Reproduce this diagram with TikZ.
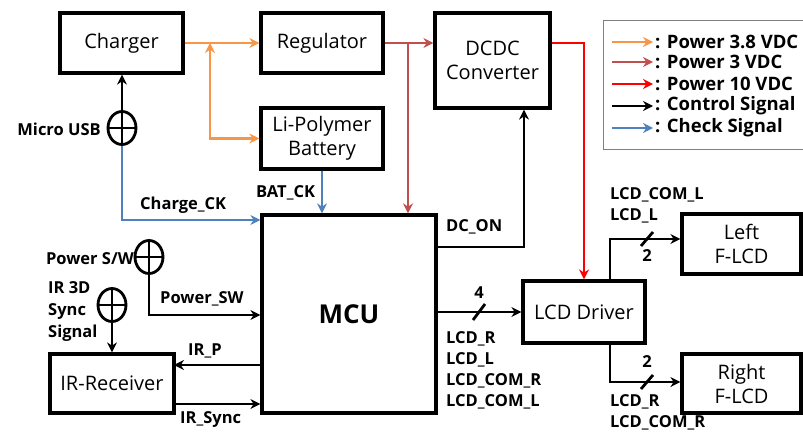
\documentclass[tikz,border=0pt]{standalone}
\usepackage{fontspec}
\setmainfont{Open Sans}
\usetikzlibrary{arrows.meta,shapes.geometric}
\definecolor{porange}{HTML}{F79646}
\definecolor{pbrown}{HTML}{C0504D}
\definecolor{pred}{HTML}{FF0000}
\definecolor{pblue}{HTML}{4F81BD}
\definecolor{lgray}{HTML}{808080}
\tikzset{
  blk/.style={draw=black, line width=3.2pt, fill=white, align=center, inner sep=2pt,
    font=\fontsize{20}{24}\selectfont},
  conn/.style={line width=2.8pt, -{Stealth[length=10pt,width=10pt]}},
  ctrl/.style={conn, draw=black},
  p38/.style={conn, draw=porange},
  p3/.style={conn, draw=pbrown},
  p10/.style={conn, draw=pred},
  chk/.style={conn, draw=pblue},
  lbl/.style={font=\bfseries\fontsize{16.5}{21}\selectfont, inner sep=0pt, align=left},
  jack/.style={ellipse, draw=black, line width=2.8pt, minimum width=28pt, minimum height=33pt, inner sep=0pt},
  slashmark/.style={line width=2.8pt},
  legtext/.style={font=\bfseries\fontsize{18.5}{20}\selectfont, anchor=west, inner sep=0pt}
}
\begin{document}
\begin{tikzpicture}[x=1pt,y=-1pt]
\useasboundingbox (0,0) rectangle (803,436);
\fill[white] (0,0) rectangle (803,436);

% blocks
\node[blk, minimum width=123pt, minimum height=60pt] (charger) at (121.5,43) {Charger};
\node[blk, minimum width=122pt, minimum height=60pt] (regulator) at (322,43) {Regulator};
\node[blk, minimum width=122pt, minimum height=61pt] (battery) at (322,138.5) {Li-Polymer\\Battery};
\node[blk, minimum width=115pt, minimum height=95pt] (dcdc) at (492.5,60.5) {DCDC\\Converter};
\node[blk, minimum width=174pt, minimum height=198pt, font=\bfseries\fontsize{26}{30}\selectfont] (mcu) at (349,314) {MCU};
\node[blk, minimum width=124pt, minimum height=59pt] (irrx) at (112,383.5) {IR-Receiver};
\node[blk, minimum width=122pt, minimum height=62pt] (lcddrv) at (584,312) {LCD Driver};
\node[blk, minimum width=119pt, minimum height=60pt] (leftlcd) at (741.5,244) {Left\\F-LCD};
\node[blk, minimum width=119pt, minimum height=59pt] (rightlcd) at (741.5,383.5) {Right\\F-LCD};

% jacks
\node[jack] (usb) at (122,128) {};
\draw[line width=2.8pt] (usb.north) -- (usb.south) (usb.west) -- (usb.east);
\node[jack] (psw) at (149,257) {};
\draw[line width=2.8pt] (psw.north) -- (psw.south) (psw.west) -- (psw.east);
\node[jack] (ir3d) at (112,305) {};
\draw[line width=2.8pt] (ir3d.north) -- (ir3d.south) (ir3d.west) -- (ir3d.east);

\node[lbl, anchor=east] (usblbl) at (101,129) {Micro USB};
\node[lbl, anchor=east] (pswlbl) at (134,259) {Power S/W};
\node[lbl, anchor=west, font=\bfseries\fontsize{16.5}{22}\selectfont] (irlbl) at (48,312) {IR 3D\\Sync\\Signal};

% coordinates
\coordinate (jor) at (210,43);
\coordinate (jbr) at (408,43);
\coordinate (rcorner) at (584,43);
\coordinate (dcon) at (524,247);
\coordinate (chk1) at (122,220);
\coordinate (psw1) at (149,315);
\coordinate (irp) at (174,365);
\coordinate (irs) at (174,404);
\coordinate (lup) at (610,239);
\coordinate (ldn) at (610,382);

% power 3.8
\draw[p38] (charger.east) -- (regulator.west);
\draw[p38, {Stealth[length=10pt,width=10pt]}-{Stealth[length=10pt,width=10pt]}] (jor) |- (battery.west);
% power 3
\draw[p3] (regulator.east) -- (dcdc.west |- regulator.east);
\draw[p3] (jbr) -- (jbr |- mcu.north);
% power 10
\draw[p10] (dcdc.east |- rcorner) -- (rcorner) -- (rcorner |- lcddrv.north);
% control
\draw[ctrl] (usb.north) -- (usb.north |- charger.south);
\draw[ctrl] (mcu.east |- dcon) -- (dcon) -- (dcon |- dcdc.south);
\draw[ctrl] (psw.south) -- (psw1) -- (mcu.west |- psw1);
\draw[ctrl] (ir3d.south) -- (ir3d.south |- irrx.north);
\draw[ctrl] (mcu.west |- irp) -- (irp);
\draw[ctrl] (irs) -- (mcu.west |- irs);
\draw[ctrl] (mcu.east |- lcddrv.west) -- (lcddrv.west);
\draw[ctrl] (lcddrv.north -| lup) -- (lup) -- (leftlcd.west |- lup);
\draw[ctrl] (lcddrv.south -| ldn) -- (ldn) -- (rightlcd.west |- ldn);
% check
\draw[chk] (usb.south) -- (chk1) -- (mcu.west |- chk1);
\draw[chk] (battery.south) -- (battery.south |- mcu.north);

% bus slashes
\draw[slashmark] (473,320) -- (485,304);
\draw[slashmark] (641,246) -- (653,232);
\draw[slashmark] (641,389) -- (653,375);

% labels
\node[lbl, anchor=west] (ckl) at (140,205) {Charge\_CK};
\node[lbl, anchor=west] (batl) at (256,193) {BAT\_CK};
\node[lbl, anchor=west] (dconl) at (446,227) {DC\_ON};
\node[lbl, anchor=west] (pswl) at (160,299) {Power\_SW};
\node[lbl, anchor=west] (irpl) at (188,351) {IR\_P};
\node[lbl, anchor=west] (irsl) at (180,420) {IR\_Sync};
\node[lbl] (n4) at (479,293) {4};
\node[lbl, anchor=north west] (busl) at (446,331) {LCD\_R\\LCD\_L\\LCD\_COM\_R\\LCD\_COM\_L};
\node[lbl] (n2a) at (647,256) {2};
\node[lbl] (n2b) at (647,362) {2};
\node[lbl, anchor=north west] (ltl) at (610,187) {LCD\_COM\_L\\LCD\_L};
\node[lbl, anchor=north west] (rtl) at (610,394) {LCD\_R\\LCD\_COM\_R};

% legend
\node[draw=lgray, line width=1.2pt, minimum width=203pt, minimum height=129pt, anchor=north west] (legend) at (603,20) {};
\coordinate (la) at (612,42);
\coordinate (lb) at (612,62);
\coordinate (lc) at (612,84);
\coordinate (ld) at (612,106);
\coordinate (le) at (612,128);
\draw[p38] (la) -- ++(41,0);
\draw[p3] (lb) -- ++(41,0);
\draw[p10] (lc) -- ++(41,0);
\draw[ctrl] (ld) -- ++(41,0);
\draw[chk] (le) -- ++(41,0);
\node[legtext] (lta) at (655,42) {: Power 3.8 VDC};
\node[legtext] (ltb) at (655,62) {: Power 3 VDC};
\node[legtext] (ltc) at (655,84) {: Power 10 VDC};
\node[legtext] (ltd) at (655,106) {: Control Signal};
\node[legtext] (lte) at (655,128) {: Check Signal};
\end{tikzpicture}
\end{document}
